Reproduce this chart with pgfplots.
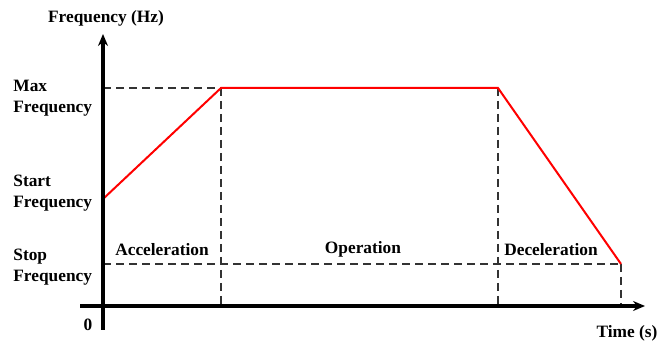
\documentclass[border=0pt]{standalone}
\usepackage{pgfplots}
\pgfplotsset{compat=1.18}
\usepackage{fontspec}
\setmainfont{Liberation Serif}
\usetikzlibrary{arrows.meta}

\tikzset{lbl/.style={font=\fontsize{8.7}{10.5}\selectfont\bfseries, inner sep=0pt}}

\begin{document}
\begin{tikzpicture}
\begin{axis}[
    scale only axis,
    width=329.5bp, height=173.5bp,
    xmin=-103, xmax=556,
    ymin=-41, ymax=306,
    axis lines=none,
    clip=false,
  ]
  % fix the picture frame
  \path (axis cs:-103,-41) rectangle (axis cs:556,306);

  % guide lines
  \addplot[black!80, line width=0.6bp, dash pattern=on 4bp off 2.5bp] coordinates {(0,218) (118,218)};
  \addplot[black!80, line width=0.6bp, dash pattern=on 4bp off 2.5bp] coordinates {(118,218) (118,0)};
  \addplot[black!80, line width=0.6bp, dash pattern=on 4bp off 2.5bp] coordinates {(395,218) (395,0)};
  \addplot[black!80, line width=0.6bp, dash pattern=on 4bp off 2.5bp] coordinates {(0,42) (518,42)};
  \addplot[black!80, line width=0.6bp, dash pattern=on 4bp off 2.5bp] coordinates {(518,42) (518,0)};

  % frequency profile
  \addplot[red, line width=1bp] coordinates {
    (0,107) (118,218) (395,218) (518,42)
  };

  % axes
  \draw[line width=2bp, -{Stealth[length=6bp, width=5bp]}] (axis cs:-23,0) -- (axis cs:542,0);
  \draw[line width=2bp, -{Stealth[length=6bp, width=5bp]}] (axis cs:0,-24) -- (axis cs:0,272);

  % labels
  \node[lbl] at (axis cs:3,288) {Frequency (Hz)};
  \node[lbl, anchor=west, align=left] at (axis cs:-90,208) {Max\\Frequency};
  \node[lbl, anchor=west, align=left] at (axis cs:-90,112.5) {Start\\Frequency};
  \node[lbl, anchor=west, align=left] at (axis cs:-90,38.5) {Stop\\Frequency};
  \node[lbl] at (axis cs:-15,-19) {0};
  \node[lbl] at (axis cs:524,-27) {Time (s)};
  \node[lbl] at (axis cs:59,56) {Acceleration};
  \node[lbl] at (axis cs:260,57) {Operation};
  \node[lbl] at (axis cs:448,56) {Deceleration};
\end{axis}
\end{tikzpicture}
\end{document}
